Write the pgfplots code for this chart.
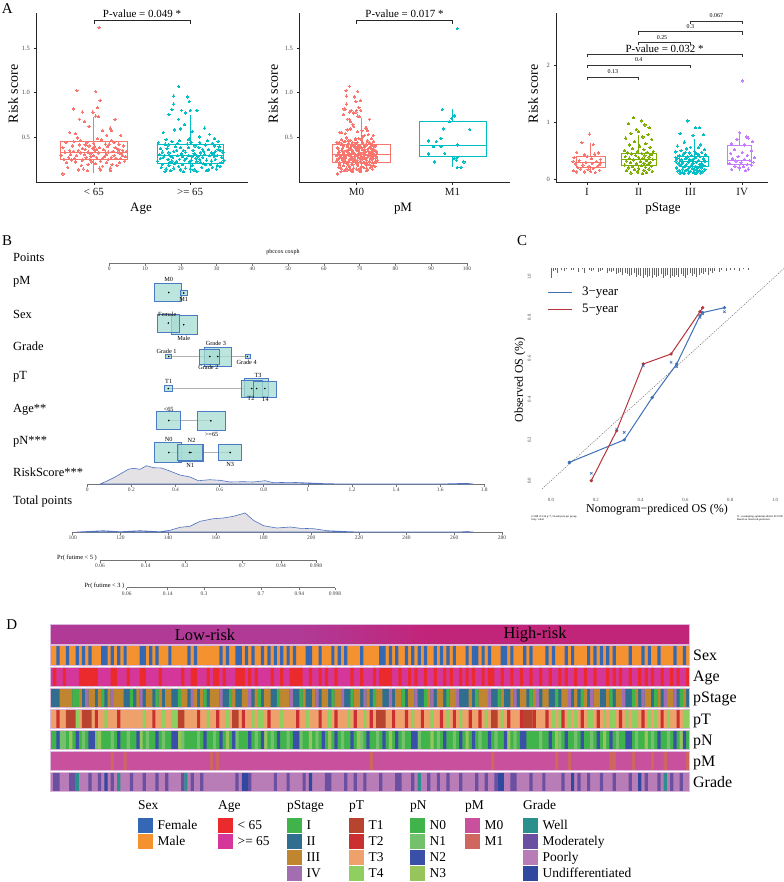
\documentclass[border=0pt]{standalone}
\usepackage{fontspec}
\setmainfont{Liberation Serif}
\usepackage{pgfplots}
\usepackage{pgfplotstable}
\pgfplotsset{compat=1.18}
\usepgfplotslibrary{statistics}
\newcommand\fs[1]{\fontsize{#1}{#1}\selectfont}
\definecolor{gA}{HTML}{F8766D}
\definecolor{gB}{HTML}{00BFC4}
\definecolor{gII}{HTML}{7CAE00}
\definecolor{gIV}{HTML}{C77CFF}
\definecolor{nbox}{HTML}{A6DCD2}
\definecolor{nedge}{HTML}{4A7BC4}
\definecolor{dens}{HTML}{E4E2E4}
\definecolor{densl}{HTML}{4D72C2}
\definecolor{cthree}{HTML}{3E70B7}
\definecolor{cfive}{HTML}{B4323A}
\definecolor{cFemale}{HTML}{3468B4}
\definecolor{cMale}{HTML}{F49230}
\definecolor{cLow}{HTML}{EA2A2D}
\definecolor{cHigh}{HTML}{D5369A}
\definecolor{cSI}{HTML}{40B44B}
\definecolor{cSII}{HTML}{2F6E8F}
\definecolor{cSIII}{HTML}{C0852F}
\definecolor{cSIV}{HTML}{A36DB1}
\definecolor{cT1}{HTML}{B8432F}
\definecolor{cT2}{HTML}{CB3030}
\definecolor{cT3}{HTML}{EFA16B}
\definecolor{cT4}{HTML}{8FCF5F}
\definecolor{cN0}{HTML}{40B44B}
\definecolor{cN1}{HTML}{74C16B}
\definecolor{cN2}{HTML}{3A50A7}
\definecolor{cN3}{HTML}{97C55B}
\definecolor{cM0}{HTML}{C9509D}
\definecolor{cM1}{HTML}{D06660}
\definecolor{cWell}{HTML}{2B8F8C}
\definecolor{cMod}{HTML}{6B4FA1}
\definecolor{cPoor}{HTML}{B87CB7}
\definecolor{cUnd}{HTML}{2F49A1}
\definecolor{hLow}{HTML}{B03A96}
\definecolor{hHigh}{HTML}{C1257A}
\definecolor{hmframe}{HTML}{DDB8DD}

\pgfplotsset{
  /pgf/number format/assume math mode=true,
  boxplot/draw direction=y,
  panelA/.style={scale only axis, anchor=south west, height=169bp,
    axis x line*=bottom, axis y line*=left,
    axis line style={line width=0.6bp, black!85},
    tick style={line width=0.5bp, black!85},
    tick align=outside, major tick length=2.5bp,
    yticklabel style={font=\fs{6.5}, text=black!70},
    xticklabel style={font=\fs{11}, text=black!90},
    clip=false},
  jit/.style={only marks, color=#1, mark=*, mark size=1.15bp, mark options={solid, draw=#1, fill=#1, line width=0pt}},
  bx/.style={draw=#1, line width=0.7bp, solid, fill=none},
  nb/.style={fill=nbox, draw=nedge, line width=0.8bp, fill opacity=0.75},
  nscale/.style={scale only axis, anchor=south west, ymin=0, ymax=20, height=20bp,
    axis y line=none, axis x line*=bottom,
    axis line style={black!55, line width=0.6bp},
    tick style={black!55, line width=0.5bp},
    tick align=outside, major tick length=2.5bp, ytick=\empty,
    xticklabel style={font=\fs{5.5}, text=black!75, inner sep=1bp}, clip=false},
  hm/.style={scale only axis, anchor=south west, width=639.3bp, height=19.6bp,
    xmin=-0.5, xmax=199.5, ymin=0, ymax=1, xtick=\empty, ytick=\empty,
    axis line style={hmframe, line width=0.5bp}, axis on top},
  hb/.style={ybar, bar width=1, bar shift=0pt, draw=none, fill=#1},
  bg/.style={fill=#1, draw=none}
}

\pgfplotstableread{
x y
0.70 0.33
0.74 0.27
0.78 0.40
0.81 0.22
0.84 0.35
0.87 0.18
0.90 0.30
0.93 0.44
0.96 0.25
0.99 0.37
1.02 0.20
1.05 0.32
1.08 0.47
1.11 0.28
1.14 0.39
1.17 0.15
1.20 0.34
1.23 0.26
1.26 0.42
1.29 0.31
1.32 0.23
0.68 0.38
0.72 0.21
0.76 0.30
0.79 0.45
0.82 0.29
0.85 0.41
0.88 0.24
0.91 0.36
0.94 0.19
0.97 0.31
1.00 0.43
1.03 0.27
1.06 0.38
1.09 0.17
1.12 0.33
1.15 0.25
1.18 0.46
1.21 0.29
1.24 0.37
1.27 0.21
1.30 0.35
1.33 0.28
0.66 0.29
0.71 0.44
0.75 0.35
0.80 0.26
0.83 0.49
0.86 0.32
0.89 0.14
0.92 0.27
0.95 0.40
0.98 0.22
1.01 0.35
1.04 0.48
1.07 0.23
1.10 0.36
1.13 0.30
1.16 0.42
1.19 0.19
1.22 0.38
1.25 0.33
1.28 0.26
1.31 0.40
1.34 0.34
0.73 0.16
0.77 0.24
0.84 0.13
0.91 0.41
0.97 0.28
1.03 0.36
1.09 0.26
1.15 0.33
1.21 0.44
1.27 0.32
0.69 0.25
0.88 0.37
0.94 0.33
1.00 0.29
1.06 0.15
1.12 0.42
1.18 0.27
1.24 0.18
1.30 0.29
0.79 0.34
0.86 0.46
1.01 0.39
1.13 0.21
1.26 0.36
0.825 1.02
1.02 1.01
1.065 0.91
0.79 0.815
1.04 0.83
0.88 0.78
0.99 0.78
1.02 0.735
1.05 0.73
0.85 0.70
1.22 0.70
0.90 0.67
1.17 0.60
1.09 0.57
0.81 0.54
1.18 0.57
1.135 0.52
0.68 0.085
1.07 0.13
1.17 0.12
0.935 0.12
0.75 0.55
0.95 0.62
1.28 0.52
}\agelow

\pgfplotstableread{
x y
1.68 0.30
1.71 0.19
1.74 0.42
1.77 0.25
1.80 0.12
1.83 0.34
1.86 0.22
1.89 0.46
1.92 0.28
1.95 0.15
1.98 0.38
2.01 0.24
2.04 0.31
2.07 0.11
2.10 0.44
2.13 0.27
2.16 0.19
2.19 0.36
2.22 0.23
2.25 0.40
2.28 0.29
2.31 0.17
2.34 0.33
1.66 0.23
1.69 0.37
1.72 0.27
1.75 0.14
1.78 0.32
1.81 0.45
1.84 0.20
1.87 0.29
1.90 0.13
1.93 0.35
1.96 0.26
1.99 0.48
2.02 0.18
2.05 0.40
2.08 0.28
2.11 0.21
2.14 0.34
2.17 0.12
2.20 0.29
2.23 0.43
2.26 0.25
2.29 0.36
2.32 0.21
1.67 0.44
1.70 0.16
1.73 0.29
1.76 0.37
1.79 0.21
1.82 0.27
1.85 0.39
1.88 0.17
1.91 0.31
1.94 0.24
1.97 0.42
2.00 0.14
2.03 0.35
2.06 0.26
2.09 0.38
2.12 0.16
2.15 0.30
2.18 0.46
2.21 0.19
2.24 0.31
2.27 0.14
2.30 0.39
2.33 0.27
1.71 0.33
1.77 0.41
1.83 0.15
1.89 0.25
1.95 0.33
2.01 0.44
2.07 0.22
2.13 0.36
2.19 0.13
2.25 0.28
2.31 0.35
1.74 0.11
1.80 0.28
1.86 0.35
1.92 0.19
1.98 0.29
2.04 0.13
2.10 0.25
2.16 0.41
2.22 0.32
2.28 0.18
1.69 0.26
1.75 0.47
1.81 0.23
1.87 0.43
1.93 0.11
1.99 0.22
2.05 0.30
2.11 0.32
2.17 0.24
2.23 0.16
2.29 0.45
2.35 0.24
1.78 0.18
1.90 0.38
2.02 0.28
2.14 0.20
2.26 0.34
1.88 1.07
1.83 0.96
1.97 0.95
1.99 0.90
1.83 0.87
1.91 0.80
2.07 0.80
2.00 0.80
1.81 0.81
1.95 0.77
1.88 0.70
1.78 0.75
1.90 0.59
1.84 0.58
2.15 0.60
2.02 0.56
2.10 0.50
1.98 0.47
2.20 0.53
1.72 0.55
2.25 0.48
1.94 0.64
}\agehigh

\pgfplotstableread{
x y
1.894 0.811
2.02 0.736
1.99 0.71
1.97 0.672
1.91 0.59
2.18 0.586
1.88 0.485
1.83 0.447
1.75 0.455
1.88 0.39
2.05 0.41
1.80 0.39
1.75 0.31
1.92 0.317
2.05 0.27
2.02 0.26
2.04 0.24
1.81 0.22
2.12 0.22
2.05 0.16
2.09 0.16
2.05 1.72
}\mone

\pgfplotstableread{
dx y
0.05 0.79
-0.10 0.64
0.12 0.61
-0.20 0.47
0.22 0.46
0.15 0.44
-0.05 0.43
0.00 0.40
-0.25 0.38
0.08 0.36
0.26 0.35
-0.15 0.33
0.18 0.31
-0.02 0.30
0.10 0.28
-0.22 0.27
0.24 0.26
-0.08 0.25
0.04 0.23
0.20 0.22
-0.18 0.21
0.12 0.19
-0.12 0.18
0.02 0.17
0.24 0.16
-0.26 0.15
0.07 0.14
-0.05 0.13
0.16 0.12
-0.20 0.13
0.27 0.29
-0.27 0.31
}\stI

\pgfplotstableread{
dx y
-0.10 1.08
0.05 1.02
-0.20 0.97
0.12 0.95
0.20 0.90
-0.05 0.87
0.00 0.83
-0.15 0.80
0.18 0.78
0.08 0.74
-0.25 0.72
0.25 0.70
-0.08 0.66
0.14 0.62
-0.18 0.60
0.02 0.58
0.22 0.56
-0.12 0.54
0.10 0.52
-0.28 0.50
0.28 0.49
-0.02 0.48
0.16 0.47
-0.22 0.46
0.06 0.45
-0.14 0.44
0.24 0.43
-0.06 0.42
0.12 0.41
-0.26 0.40
0.20 0.39
0.00 0.38
-0.18 0.37
0.08 0.36
0.27 0.35
-0.10 0.34
0.15 0.33
-0.24 0.32
0.03 0.31
0.22 0.30
-0.16 0.29
0.10 0.28
-0.04 0.27
0.18 0.26
-0.27 0.25
0.05 0.24
0.25 0.23
-0.12 0.22
0.13 0.21
-0.20 0.20
0.00 0.19
0.20 0.18
-0.08 0.17
0.10 0.16
-0.23 0.15
0.26 0.14
-0.02 0.13
0.15 0.12
-0.15 0.11
0.07 0.10
}\stII

\pgfplotstableread{
dx y
-0.05 1.02
0.10 0.90
0.18 0.90
-0.20 0.80
0.25 0.78
0.05 0.77
-0.12 0.65
0.20 0.60
-0.25 0.58
0.00 0.56
0.15 0.55
-0.08 0.53
0.27 0.52
-0.18 0.50
0.08 0.49
-0.28 0.48
0.22 0.47
-0.02 0.46
0.12 0.45
-0.14 0.44
0.29 0.43
0.02 0.42
-0.22 0.41
0.18 0.40
-0.06 0.39
0.10 0.38
-0.26 0.37
0.25 0.36
-0.10 0.36
0.05 0.35
-0.18 0.34
0.16 0.33
0.00 0.33
-0.28 0.32
0.28 0.31
-0.04 0.30
0.12 0.30
-0.16 0.29
0.22 0.28
0.06 0.28
-0.24 0.27
0.18 0.26
-0.08 0.26
0.02 0.25
-0.20 0.24
0.26 0.24
0.10 0.23
-0.12 0.22
0.15 0.21
-0.02 0.21
-0.27 0.20
0.22 0.20
0.04 0.19
-0.15 0.18
0.12 0.18
-0.06 0.17
0.28 0.17
-0.22 0.16
0.08 0.16
0.18 0.15
-0.10 0.15
0.00 0.14
-0.25 0.14
0.24 0.13
0.14 0.13
-0.16 0.12
0.06 0.12
-0.04 0.11
0.20 0.11
-0.20 0.11
0.10 0.10
-0.12 0.10
0.27 0.33
-0.28 0.38
0.16 0.43
-0.10 0.47
0.04 0.27
-0.02 0.35
0.22 0.22
-0.18 0.26
}\stIII

\pgfplotstableread{
dx y
0.00 1.72
-0.05 0.82
0.08 0.74
0.12 0.72
-0.10 0.70
0.20 0.66
-0.20 0.62
0.05 0.60
-0.15 0.52
0.18 0.50
0.00 0.47
-0.22 0.45
0.10 0.42
-0.08 0.40
0.24 0.38
-0.18 0.36
0.04 0.35
0.15 0.33
-0.12 0.32
0.22 0.30
-0.02 0.29
-0.24 0.28
0.10 0.26
0.18 0.25
-0.14 0.23
0.02 0.22
-0.06 0.20
0.12 0.18
-0.20 0.17
0.06 0.15
}\stIV

\pgfplotstableread{
x l
0.00 0.05
0.01 0.015
0.02 0.01
0.03 0.025
0.045 0.012
0.06 0.015
0.07 0.008
0.09 0.012
0.10 0.01
0.12 0.02
0.14 0.008
0.15 0.025
0.17 0.012
0.18 0.015
0.19 0.01
0.21 0.02
0.22 0.015
0.23 0.01
0.25 0.025
0.26 0.015
0.27 0.02
0.28 0.015
0.29 0.03
0.30 0.025
0.31 0.02
0.32 0.035
0.33 0.025
0.34 0.03
0.35 0.04
0.36 0.035
0.37 0.025
0.38 0.045
0.39 0.035
0.40 0.04
0.41 0.05
0.42 0.035
0.43 0.045
0.44 0.04
0.45 0.05
0.46 0.035
0.47 0.045
0.48 0.04
0.49 0.03
0.50 0.05
0.51 0.04
0.52 0.035
0.53 0.05
0.54 0.04
0.55 0.045
0.56 0.035
0.57 0.045
0.58 0.03
0.59 0.04
0.60 0.05
0.61 0.035
0.62 0.025
0.63 0.04
0.64 0.03
0.65 0.045
0.66 0.035
0.67 0.025
0.68 0.03
0.69 0.02
0.70 0.035
0.71 0.015
0.72 0.025
0.73 0.015
0.75 0.02
0.76 0.01
0.78 0.015
0.80 0.01
0.82 0.01
0.84 0.015
0.86 0.008
0.88 0.01
}\rug

\newcommand\brk[7]{%
  \draw[line width=0.5bp, black!80] (axis cs:#1,#4) -- (axis cs:#1,#3) -- (axis cs:#2,#3) -- (axis cs:#2,#4);
  \node[font=\fs{6}, anchor=base, inner sep=0pt] at (axis cs:#5,#6) {#7};}
\newcommand\bl[3]{\node[font=\fs{6.3}, inner sep=0pt] at (axis cs:#1,#2) {#3};}
\newcommand\lgkey[4]{%
  \fill[#3] (#1bp,-#2bp) rectangle ++(14.5bp,-14.5bp);
  \node[anchor=base west, font=\fs{13.5}, inner sep=0pt] at (#1bp+19.5bp,-#2bp-11.5bp) {#4};}
\newcommand\lgtitle[2]{\node[anchor=base west, font=\fs{13.5}, inner sep=0pt] at (#1bp,-809.5bp) {#2};}

\begin{document}
\begin{tikzpicture}
%================ PANEL A =================
\begin{axis}[panelA, at={(36bp,-182bp)}, width=212bp, xmin=0.4, xmax=2.6,
  ymin=-0.006, ymax=1.893, xtick={1,2}, xticklabels={{< 65},{>= 65}},
  ytick={0.5,1,1.5}, yticklabels={0.5,1.0,1.5}]
\addplot[bx=gA, boxplot prepared={draw direction=y, draw position=1, box extend=0.7, whisker extend=0,
  lower whisker=0.1, lower quartile=0.245, median=0.33, upper quartile=0.447, upper whisker=0.72}] coordinates {};
\addplot[bx=gB, boxplot prepared={draw direction=y, draw position=2, box extend=0.69, whisker extend=0,
  lower whisker=0.1, lower quartile=0.2, median=0.29, upper quartile=0.42, upper whisker=0.75}] coordinates {};
\addplot[jit=gA] table[x=x, y=y] {\agelow};
\addplot[jit=gA] coordinates {(1.055,1.73)};
\addplot[jit=gB] table[x=x, y=y] {\agehigh};
\draw[line width=0.6bp, black!85] (axis cs:1,1.77) -- (axis cs:1,1.815) -- (axis cs:2,1.815) -- (axis cs:2,1.77);
\node[font=\fs{11}, anchor=base, inner sep=0pt] at (axis cs:1.5,1.845) {P-value = 0.049 *};
\end{axis}

\begin{axis}[panelA, at={(299bp,-182bp)}, width=211bp, xmin=0.4, xmax=2.6,
  ymin=-0.006, ymax=1.893, xtick={1,2}, xticklabels={M0,M1},
  ytick={0.5,1,1.5}, yticklabels={0.5,1.0,1.5}]
\addplot[bx=gA, boxplot prepared={draw direction=y, draw position=1.05, box extend=0.6, whisker extend=0,
  lower whisker=0.1, lower quartile=0.215, median=0.305, upper quartile=0.42, upper whisker=0.71}] coordinates {};
\addplot[bx=gB, boxplot prepared={draw direction=y, draw position=2, box extend=0.7, whisker extend=0,
  lower whisker=0.166, lower quartile=0.28, median=0.41, upper quartile=0.67, upper whisker=0.81}] coordinates {};
\addplot[jit=gA] table[x expr={1+0.62*(\thisrow{x}-1)}, y=y] {\agelow};
\addplot[jit=gA] table[x expr={1+0.62*(\thisrow{x}-2)}, y=y] {\agehigh};
\addplot[jit=gB] table[x=x, y=y] {\mone};
\draw[line width=0.6bp, black!85] (axis cs:1,1.77) -- (axis cs:1,1.815) -- (axis cs:2,1.815) -- (axis cs:2,1.77);
\node[font=\fs{11}, anchor=base, inner sep=0pt] at (axis cs:1.5,1.845) {P-value = 0.017 *};
\end{axis}

\begin{axis}[panelA, at={(556bp,-182bp)}, width=212bp, xmin=0.4, xmax=4.5,
  ymin=-0.047, ymax=2.907, xtick={1,2,3,4}, xticklabels={I,II,III,IV},
  ytick={0,1,2}]
\addplot[bx=gA, boxplot prepared={draw direction=y, draw position=1.07, box extend=0.56, whisker extend=0,
  lower whisker=0.115, lower quartile=0.21, median=0.29, upper quartile=0.41, upper whisker=0.63}] coordinates {};
\addplot[bx=gII, boxplot prepared={draw direction=y, draw position=2, box extend=0.68, whisker extend=0,
  lower whisker=0.1, lower quartile=0.24, median=0.35, upper quartile=0.455, upper whisker=0.78}] coordinates {};
\addplot[bx=gB, boxplot prepared={draw direction=y, draw position=3.07, box extend=0.57, whisker extend=0,
  lower whisker=0.1, lower quartile=0.22, median=0.31, upper quartile=0.41, upper whisker=0.7}] coordinates {};
\addplot[bx=gIV, boxplot prepared={draw direction=y, draw position=3.95, box extend=0.47, whisker extend=0,
  lower whisker=0.15, lower quartile=0.27, median=0.34, upper quartile=0.59, upper whisker=0.8}] coordinates {};
\addplot[jit=gA] table[x expr={1+\thisrow{dx}}, y=y] {\stI};
\addplot[jit=gII] table[x expr={2+\thisrow{dx}}, y=y] {\stII};
\addplot[jit=gB] table[x expr={3+\thisrow{dx}}, y=y] {\stIII};
\addplot[jit=gIV] table[x expr={4+\thisrow{dx}}, y=y] {\stIV};
\brk{1}{2}{1.79}{1.74}{1.5}{1.85}{0.13}
\brk{1}{3}{2.0}{1.95}{2}{2.06}{0.4}
\draw[line width=0.5bp, black!80] (axis cs:1,2.14) -- (axis cs:1,2.19) -- (axis cs:4,2.19) -- (axis cs:4,2.14);
\brk{2}{3}{2.39}{2.34}{2.45}{2.45}{0.25}
\brk{2}{4}{2.58}{2.53}{3}{2.64}{0.3}
\brk{3}{4}{2.77}{2.72}{3.5}{2.83}{0.067}
\node[font=\fs{11}, anchor=base, inner sep=0pt] at (axis cs:2.5,2.225) {P-value = 0.032 *};
\end{axis}

\node[font=\fs{15}] at (7.3bp,-8.7bp) {A};
\node[font=\fs{14}, rotate=90] at (13bp,-94bp) {Risk score};
\node[font=\fs{14}, rotate=90] at (273bp,-94bp) {Risk score};
\node[font=\fs{14}, rotate=90] at (533bp,-94bp) {Risk score};
\node[font=\fs{13}] at (141bp,-208.5bp) {Age};
\node[font=\fs{13}] at (403bp,-208.5bp) {pM};
\node[font=\fs{13}] at (663bp,-208.5bp) {pStage};

%================ PANEL B =================
\node[font=\fs{15}] at (7bp,-240.7bp) {B};
\node[font=\fs{6}] at (283bp,-252bp) {pbccox coxph};
\foreach \t/\yy in {Points/257.7, pM/282, Sex/314, Grade/346, pT/377, Age**/409.5, pN***/441.5, RiskScore***/472.5, Total points/501.7}
  {\node[font=\fs{12.5}, anchor=west, inner sep=0pt] at (13bp,-\yy bp) {\t};}

\begin{axis}[nscale, at={(109.3bp,-263.3bp)}, width=357.7bp, height=4bp, ymax=4,
  xmin=0, xmax=100, xtick={0,10,...,100}]
\addplot[draw=none] coordinates {(0,0)(100,0)};
\end{axis}

\begin{axis}[scale only axis, anchor=south west, at={(109.3bp,-470bp)}, width=357.7bp, height=220bp,
  xmin=0, xmax=100, ymin=250, ymax=470, y dir=reverse, hide axis, clip=false]
\addplot[black!30, line width=0.8bp] coordinates {(16.6,356.5)(38.6,356.5)};
\addplot[black!30, line width=0.8bp] coordinates {(16.5,388.5)(43.5,388.5)};
\addplot[black!30, line width=0.8bp] coordinates {(16.6,420.7)(28.4,420.7)};
\addplot[black!30, line width=0.8bp] coordinates {(16.6,452.5)(33.8,452.5)};
% pM
\addplot[nb] coordinates {(12.58,283.3)(20.24,283.3)(20.24,301.7)(12.58,301.7)} -- cycle;
\addplot[nb] coordinates {(19.85,290)(21.92,290)(21.92,295.7)(19.85,295.7)} -- cycle;
% Sex
\addplot[nb] coordinates {(17.25,315.3)(24.6,315.3)(24.6,334.3)(17.25,334.3)} -- cycle;
\addplot[nb] coordinates {(13.5,314)(19.5,314)(19.5,332)(13.5,332)} -- cycle;
% Grade
\addplot[nb] coordinates {(15.77,354.3)(17.33,354.3)(17.33,358.5)(15.77,358.5)} -- cycle;
\addplot[nb] coordinates {(26.47,347)(34.02,347)(34.02,366.7)(26.47,366.7)} -- cycle;
\addplot[nb] coordinates {(25.27,349)(30.75,349)(30.75,364)(25.27,364)} -- cycle;
\addplot[nb] coordinates {(37.94,354.3)(39.33,354.3)(39.33,358.7)(37.94,358.7)} -- cycle;
% pT
\addplot[nb] coordinates {(15.4,385.7)(17.6,385.7)(17.6,391.3)(15.4,391.3)} -- cycle;
\addplot[nb] coordinates {(37.9,378)(44.5,378)(44.5,396)(37.9,396)} -- cycle;
\addplot[nb] coordinates {(36.9,380)(42.7,380)(42.7,397)(36.9,397)} -- cycle;
\addplot[nb] coordinates {(40.4,381)(46.6,381)(46.6,397.3)(40.4,397.3)} -- cycle;
% Age
\addplot[nb] coordinates {(13.25,411.7)(19.96,411.7)(19.96,429.3)(13.25,429.3)} -- cycle;
\addplot[nb] coordinates {(24.6,411)(32.35,411)(32.35,430.7)(24.6,430.7)} -- cycle;
% pN
\addplot[nb] coordinates {(12.58,442.7)(20.24,442.7)(20.24,462.3)(12.58,462.3)} -- cycle;
\addplot[nb] coordinates {(19.4,444)(26.3,444)(26.3,461.3)(19.4,461.3)} -- cycle;
\addplot[nb] coordinates {(18.9,444.7)(26.1,444.7)(26.1,460.7)(18.9,460.7)} -- cycle;
\addplot[nb] coordinates {(30.47,444.3)(37.0,444.3)(37.0,460.7)(30.47,460.7)} -- cycle;
\addplot[only marks, mark=*, mark size=0.55bp, black] coordinates {
 (16.6,292.5)(20.8,293)(16.5,323)(20.8,324.7)(16.6,356.5)(28.1,356.5)(30.3,356.5)(38.6,356.5)
 (16.5,388.5)(39.8,388.5)(41.2,388.5)(43.5,388.5)(16.6,420.5)(28.4,420.8)
 (16.6,452.5)(22.8,452.5)(22.4,452.5)(33.8,452.5)};
\bl{16.6}{279.3}{M0}
\bl{20.8}{299.7}{M1}
\bl{16.2}{314.3}{Female}
\bl{20.8}{338.3}{Male}
\bl{16.0}{351}{Grade 1}
\bl{29.8}{343.3}{Grade 3}
\bl{27.7}{367.7}{Grade 2}
\bl{38.4}{362.7}{Grade 4}
\bl{16.6}{381.7}{T1}
\bl{41.6}{375}{T3}
\bl{39.6}{398.6}{T2}
\bl{43.6}{399.3}{T4}
\bl{16.6}{409.5}{<65}
\bl{28.6}{434.3}{>=65}
\bl{16.6}{439.3}{N0}
\bl{23.0}{440.7}{N2}
\bl{22.6}{465.7}{N1}
\bl{33.8}{464.5}{N3}
\end{axis}

\begin{axis}[nscale, at={(87.3bp,-484bp)}, width=397bp, xmin=0, xmax=1.8,
  xtick={0,0.2,0.4,0.6,0.8,1,1.2,1.4,1.6,1.8}]
\addplot[fill=dens, draw=densl, line width=0.6bp] coordinates {
(0.058,0)(0.087,2.7)(0.126,7)(0.186,14.7)(0.209,15.7)(0.239,14.7)(0.269,18.3)(0.299,16.3)
(0.337,16)(0.374,13)(0.42,9)(0.466,7)(0.503,3.3)(0.556,4.3)(0.601,3.7)(0.647,2)(0.707,2.3)
(0.753,2)(0.806,3.3)(0.843,1.3)(0.918,1.7)(1.01,1)(1.085,0.3)(1.19,0)(1.6,0)(1.72,0.7)(1.75,0)} \closedcycle;
\end{axis}

\begin{axis}[nscale, at={(72.7bp,-532bp)}, width=429.3bp, xmin=100, xmax=280,
  xtick={100,120,140,160,180,200,220,240,260,280}]
\addplot[fill=dens, draw=densl, line width=0.6bp] coordinates {
(101.7,0)(112.8,1.3)(120,0.3)(128.2,1.3)(136.6,0.3)(140.8,1.7)(145,4.7)(149.2,5.7)(153.4,10.7)
(159,13.3)(163.2,14)(167.4,15.7)(172.3,19)(175.8,11.7)(180,6.3)(185.6,4)(191.2,5)(195.4,3.7)
(201,3.3)(206.6,1.3)(216.4,0.3)(220.6,0)(262,0)(265.3,0.5)(268,0)} \closedcycle;
\end{axis}

\begin{axis}[nscale, at={(100bp,-560bp)}, width=216bp, height=3bp, ymax=3, xmin=100, xmax=316,
  xtick={100,145.7,185,242.3,281,316}, xticklabels={0.06,0.14,0.3,0.7,0.94,0.998}]
\addplot[draw=none] coordinates {(100,0)(316,0)};
\end{axis}
\node[font=\fs{6.4}, anchor=east, inner sep=0pt] at (97bp,-558bp) {Pr( futime < 5 )};

\begin{axis}[nscale, at={(126.7bp,-587.7bp)}, width=208.3bp, height=3bp, ymax=3, xmin=126.7, xmax=335,
  xtick={126.7,167.7,204,261,299.3,335}, xticklabels={0.06,0.14,0.3,0.7,0.94,0.998}]
\addplot[draw=none] coordinates {(126.7,0)(335,0)};
\end{axis}
\node[font=\fs{6.4}, anchor=east, inner sep=0pt] at (124.5bp,-586bp) {Pr( futime < 3 )};

%================ PANEL C =================
\node[font=\fs{15}] at (522bp,-240.5bp) {C};
\begin{axis}[scale only axis, anchor=south west, at={(542bp,-486.8bp)}, width=242bp, height=224.4bp,
  xmin=-0.04, xmax=1.04, ymin=-0.03, ymax=1.07,
  axis line style={draw=none}, tick style={draw=none},
  xtick={0,0.2,0.4,0.6,0.8,1}, ytick={0,0.2,0.4,0.6,0.8,1},
  xticklabels={0.0,0.2,0.4,0.6,0.8,1.0}, yticklabels={0.0,0.2,0.4,0.6,0.8,1.0},
  xticklabel style={font=\fs{4.8}, text=black!70},
  yticklabel style={font=\fs{4.8}, text=black!70, rotate=90, anchor=south},
  xticklabel shift=7.5bp, yticklabel shift=7.5bp, clip=false]
\addplot[black!55, line width=0.5bp, dash pattern=on 1.2bp off 1.2bp] coordinates {(-0.04,-0.04)(1.04,1.04)};
\addplot[black!60, line width=0.45bp, quiver={u=0, v=\thisrow{l}}] table[x=x, y expr={1.044-\thisrow{l}}] {\rug};
\addplot[cthree, line width=1bp, mark=*, mark size=1.1bp] coordinates {
(0.082,0.09)(0.327,0.20)(0.452,0.408)(0.561,0.572)(0.665,0.809)(0.677,0.824)(0.774,0.848)};
\addplot[cfive, line width=1bp, mark=*, mark size=1.1bp] coordinates {
(0.18,0.0)(0.293,0.245)(0.412,0.572)(0.536,0.621)(0.665,0.828)(0.677,0.848)};
\addplot[only marks, cthree, mark=x, mark size=1.7bp, mark options={line width=0.6bp}] coordinates {
(0.082,0.088)(0.18,0.036)(0.293,0.253)(0.327,0.237)(0.412,0.564)(0.536,0.58)(0.561,0.559)
(0.665,0.80)(0.677,0.818)(0.774,0.828)};
\end{axis}
\draw[cthree, line width=1.3bp] (548.3bp,-292.7bp) -- (571.7bp,-292.7bp);
\draw[cfive, line width=1.3bp] (548.3bp,-309.3bp) -- (571.7bp,-309.3bp);
\node[font=\fs{13}, anchor=west, inner sep=0pt] at (582bp,-292.7bp) {3−year};
\node[font=\fs{13}, anchor=west, inner sep=0pt] at (582bp,-309.3bp) {5−year};
\node[font=\fs{12}, inner sep=0pt] at (657bp,-509.5bp) {Nomogram−prediced OS (\%)};
\node[font=\fs{12}, rotate=90, inner sep=0pt] at (520bp,-380bp) {Observed OS (\%)};
\node[font=\fs{2.8}, anchor=west, inner sep=0pt, align=left] at (531bp,-518.5bp) {n=388 d=134 p=7, 56 subjects per group\\Gray: ideal};
\node[font=\fs{2.8}, anchor=east, inner sep=0pt, align=left] at (783bp,-518.5bp) {X - resampling optimism added, B=1000\\Based on observed-predicted};

%================ PANEL D =================
\node[font=\fs{15}] at (11.7bp,-625bp) {D};
\begin{axis}[hm, at={(50bp,-644.1bp)}, height=19.4bp]
\addplot[bg=hLow] coordinates {(-0.5,0)(78,0)(78,1)(-0.5,1)} -- cycle;
\addplot[draw=none, left color=hLow, right color=hHigh] coordinates {(77.8,0)(117.2,0)(117.2,1)(77.8,1)} -- cycle;
\addplot[bg=hHigh] coordinates {(117,0)(199.5,0)(199.5,1)(117,1)} -- cycle;
\end{axis}
\node[font=\fs{16.5}] at (205bp,-634.4bp) {Low-risk};
\node[font=\fs{16.5}] at (535bp,-634.4bp) {High-risk};
% Sex
\begin{axis}[hm, at={(50bp,-665.3bp)}]
\addplot[bg=cMale] coordinates {(-0.5,0)(199.5,0)(199.5,1)(-0.5,1)} -- cycle;
\addplot[hb=cFemale] table[row sep=\\, header=false, x index=0, y expr=1] {2\\5\\8\\10\\12\\16\\17\\19\\21\\23\\28\\29\\31\\33\\37\\43\\45\\53\\55\\58\\59\\61\\63\\66\\68\\70\\72\\74\\76\\80\\81\\84\\88\\90\\92\\97\\103\\104\\106\\108\\111\\113\\115\\117\\120\\122\\124\\126\\130\\132\\133\\135\\137\\141\\142\\144\\148\\150\\155\\157\\161\\163\\168\\170\\172\\174\\176\\181\\185\\187\\190\\195\\198\\};
\end{axis}
% Age
\begin{axis}[hm, at={(50bp,-686.4bp)}]
\addplot[bg=cHigh] coordinates {(-0.5,0)(199.5,0)(199.5,1)(-0.5,1)} -- cycle;
\addplot[hb=cLow] table[row sep=\\, header=false, x index=0, y expr=1] {1\\4\\9\\10\\11\\12\\13\\14\\19\\20\\24\\28\\29\\34\\41\\44\\45\\49\\51\\52\\54\\58\\59\\60\\62\\64\\69\\72\\75\\76\\77\\78\\81\\84\\86\\89\\94\\97\\101\\103\\104\\105\\106\\109\\112\\114\\117\\120\\123\\125\\128\\130\\132\\135\\137\\138\\141\\144\\147\\150\\153\\156\\159\\161\\164\\167\\170\\174\\176\\178\\181\\184\\186\\188\\191\\194\\196\\199\\};
\end{axis}
% pStage
\begin{axis}[hm, at={(50bp,-707.4bp)}]
\addplot[bg=cSII] coordinates {(-0.5,0)(199.5,0)(199.5,1)(-0.5,1)} -- cycle;
\addplot[hb=cSIII] table[row sep=\\, header=false, x index=0, y expr=1] {3\\4\\5\\6\\9\\12\\13\\15\\18\\20\\21\\22\\27\\30\\31\\34\\36\\37\\41\\42\\45\\47\\50\\51\\52\\57\\60\\61\\64\\67\\68\\72\\73\\74\\79\\82\\85\\86\\89\\90\\95\\96\\99\\102\\103\\108\\109\\112\\113\\118\\121\\122\\125\\126\\131\\134\\135\\136\\141\\144\\147\\148\\151\\154\\155\\160\\161\\164\\167\\170\\171\\174\\177\\178\\183\\186\\187\\190\\193\\194\\198\\};
\addplot[hb=cSI] table[row sep=\\, header=false, x index=0, y expr=1] {7\\8\\16\\25\\33\\40\\48\\56\\65\\71\\78\\88\\94\\101\\110\\117\\124\\133\\140\\150\\158\\166\\175\\182\\189\\197\\};
\addplot[hb=cSIV] table[row sep=\\, header=false, x index=0, y expr=1] {11\\19\\28\\44\\53\\62\\75\\83\\91\\98\\106\\114\\119\\127\\137\\145\\152\\162\\169\\179\\185\\192\\195\\};
\end{axis}
% pT
\begin{axis}[hm, at={(50bp,-728.5bp)}]
\addplot[bg=cT3] coordinates {(-0.5,0)(199.5,0)(199.5,1)(-0.5,1)} -- cycle;
\addplot[hb=cT4] table[row sep=\\, header=false, x index=0, y expr=1] {8\\17\\29\\35\\38\\39\\49\\55\\63\\65\\66\\72\\80\\87\\93\\98\\113\\119\\124\\128\\136\\141\\157\\159\\162\\164\\168\\169\\173\\175\\176\\180\\182\\183\\187\\189\\193\\198\\199\\};
\addplot[hb=cT2] table[row sep=\\, header=false, x index=0, y expr=1] {2\\14\\21\\32\\46\\52\\60\\68\\77\\84\\89\\95\\100\\107\\111\\116\\122\\126\\131\\134\\143\\147\\151\\155\\160\\166\\171\\178\\185\\191\\196\\};
\addplot[hb=cT1] table[row sep=\\, header=false, x index=0, y expr=1] {5\\6\\7\\10\\11\\12\\40\\41\\57\\58\\102\\103\\104\\138\\139\\148\\149\\150\\};
\end{axis}
% pN
\begin{axis}[hm, at={(50bp,-749.6bp)}]
\addplot[bg=cN0] coordinates {(-0.5,0)(199.5,0)(199.5,1)(-0.5,1)} -- cycle;
\addplot[hb=cN1] table[row sep=\\, header=false, x index=0, y expr=1] {3\\4\\10\\14\\19\\24\\30\\35\\41\\46\\51\\58\\64\\69\\74\\78\\83\\91\\97\\102\\110\\115\\121\\126\\134\\139\\145\\153\\159\\164\\169\\177\\183\\188\\193\\};
\addplot[hb=cN3] table[row sep=\\, header=false, x index=0, y expr=1] {6\\15\\28\\40\\55\\67\\81\\87\\96\\106\\119\\130\\143\\158\\173\\186\\197\\};
\addplot[hb=cN2] table[row sep=\\, header=false, x index=0, y expr=1] {2\\8\\12\\13\\21\\27\\33\\38\\39\\48\\53\\57\\62\\66\\71\\76\\77\\85\\89\\94\\99\\104\\108\\113\\114\\123\\128\\132\\137\\142\\147\\148\\156\\161\\166\\171\\175\\180\\181\\190\\195\\198\\};
\end{axis}
% pM
\begin{axis}[hm, at={(50bp,-770.6bp)}]
\addplot[bg=cM0] coordinates {(-0.5,0)(199.5,0)(199.5,1)(-0.5,1)} -- cycle;
\addplot[hb=cM1] table[row sep=\\, header=false, x index=0, y expr=1] {19\\23\\50\\52\\100\\138\\158\\162\\175\\176\\182\\188\\192\\199\\};
\end{axis}
% Grade
\begin{axis}[hm, at={(50bp,-791.7bp)}]
\addplot[bg=cPoor] coordinates {(-0.5,0)(199.5,0)(199.5,1)(-0.5,1)} -- cycle;
\addplot[hb=cMod] table[row sep=\\, header=false, x index=0, y expr=1] {1\\2\\6\\7\\12\\15\\19\\25\\29\\33\\36\\41\\44\\47\\58\\62\\70\\74\\79\\86\\87\\92\\95\\98\\103\\108\\109\\113\\118\\121\\124\\128\\133\\136\\139\\144\\145\\150\\154\\160\\165\\168\\172\\176\\181\\186\\190\\194\\197\\};
\addplot[hb=cUnd] table[row sep=\\, header=false, x index=0, y expr=1] {17\\60\\61\\81\\140\\141\\163\\184\\};
\addplot[hb=cWell] table[row sep=\\, header=false, x index=0, y expr=1] {8\\21\\42\\115\\192\\};
\end{axis}
\foreach \t/\yy in {Sex/655.5, Age/676.6, pStage/697.6, pT/718.7, pN/739.8, pM/760.8, Grade/781.9}
  {\node[font=\fs{16}, anchor=base west, inner sep=0pt] at (693bp,-\yy bp-5.3bp) {\t};}
% legend
\lgtitle{138}{Sex}\lgtitle{218}{Age}\lgtitle{287}{pStage}\lgtitle{349}{pT}
\lgtitle{410}{pN}\lgtitle{465}{pM}\lgtitle{523}{Grade}
\lgkey{138}{818.3}{cFemale}{Female}\lgkey{138}{834.3}{cMale}{Male}
\lgkey{218}{818.3}{cLow}{< 65}\lgkey{218}{834.3}{cHigh}{>= 65}
\lgkey{287}{818.3}{cSI}{I}\lgkey{287}{834.3}{cSII}{II}\lgkey{287}{850.3}{cSIII}{III}\lgkey{287}{866.3}{cSIV}{IV}
\lgkey{349}{818.3}{cT1}{T1}\lgkey{349}{834.3}{cT2}{T2}\lgkey{349}{850.3}{cT3}{T3}\lgkey{349}{866.3}{cT4}{T4}
\lgkey{410}{818.3}{cN0}{N0}\lgkey{410}{834.3}{cN1}{N1}\lgkey{410}{850.3}{cN2}{N2}\lgkey{410}{866.3}{cN3}{N3}
\lgkey{465}{818.3}{cM0}{M0}\lgkey{465}{834.3}{cM1}{M1}
\lgkey{523}{818.3}{cWell}{Well}\lgkey{523}{834.3}{cMod}{Moderately}\lgkey{523}{850.3}{cPoor}{Poorly}\lgkey{523}{866.3}{cUnd}{Undifferentiated}

\pgfresetboundingbox
\path[use as bounding box] (0bp,0bp) rectangle (784bp,-882bp);
\end{tikzpicture}
\end{document}
